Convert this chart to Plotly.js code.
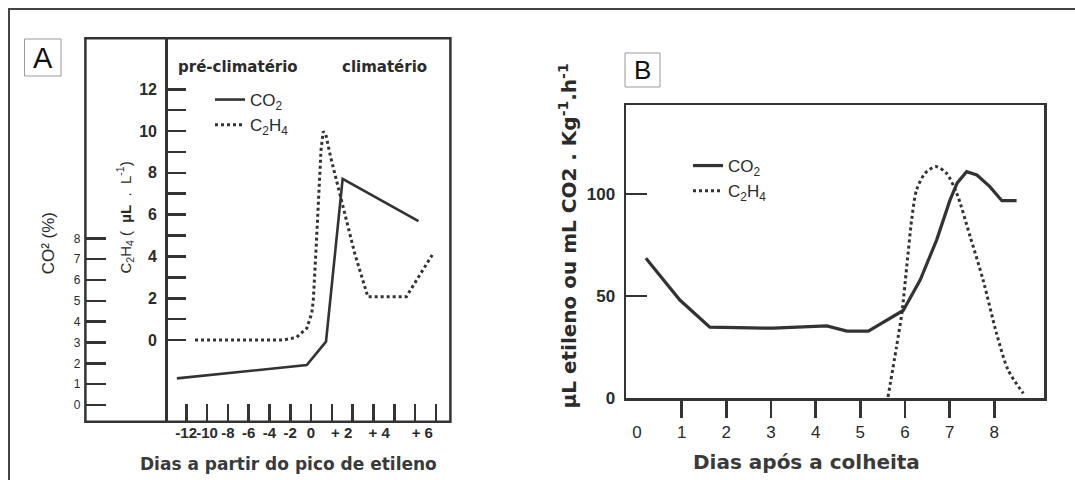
<!DOCTYPE html>
<html>
<head>
<meta charset="utf-8">
<script src="https://cdn.plot.ly/plotly-3.0.1.min.js"></script>
<style>
  html, body { margin: 0; padding: 0; background: #fff; }
  #chart { width: 1075px; height: 480px; }
</style>
</head>
<body>
<div id="chart"></div>
<script>
// ---- Panel A: days from the ethylene peak ----
const daysA_co2 = [-12.9, -0.41, 1.44, 3.04, 10.33];
const co2PctA   = [1.28, 1.92, 3.04, 10.85, 8.83];

const daysA_eth = [-11.15, -2.66, -1.38, -0.41, 0.07, 0.22, 0.48, 0.72, 0.96, 1.17, 1.41, 1.88, 3.21, 4.2, 5.46, 9.16, 11.65];
const ethA      = [0, 0, 0.13, 0.56, 1.28, 1.91, 4.31, 6.70, 9.09, 9.98, 9.86, 8.77, 6.06, 4.15, 2.07, 2.07, 4.07];

const tickDaysA  = [-12, -10, -8, -6, -4, -2, 0, 2, 4, 6, 8, 10, 12];
const labelDaysA = [-12, -10, -8, -6, -4, -2, 0, 2.95, 6.56, 10.7];
const labelTextA = ['-12', '-10', '-8', '-6', '-4', '-2', '0', '+ 2', '+ 4', '+ 6'];
const ethTicksA  = [0, 2, 4, 6, 8, 10, 12];
const ethMinorA  = [1, 3, 5, 7, 9, 11];
const co2TicksA  = [0, 1, 2, 3, 4, 5, 6, 7, 8];

// ---- Panel B: days after harvest ----
const daysB_co2 = [0.20, 0.96, 1.63, 3.05, 4.25, 4.70, 5.18, 5.96, 6.34, 6.71, 7.01, 7.17, 7.38, 7.61, 7.90, 8.17, 8.50];
const co2B      = [68.5, 48.0, 34.7, 34.2, 35.3, 32.8, 32.8, 42.9, 57.8, 77.5, 97.1, 105.4, 110.9, 109.3, 103.6, 96.7, 96.7];

const daysB_eth = [5.62, 5.81, 5.93, 6.04, 6.15, 6.26, 6.45, 6.69, 6.93, 7.16, 7.46, 7.75, 8.05, 8.31, 8.65];
const ethB      = [0.5, 25, 41.5, 64.4, 87.3, 102, 110.1, 113.4, 110.1, 100.3, 79.1, 57.8, 31.7, 13.7, 2.3];

const tickDaysB  = [1, 2, 3, 4, 5, 6, 7, 8];
const labelDaysB = [0, 1, 2, 3, 4, 5, 6, 7, 8];
const valTicksB  = [0, 50, 100];

// ---- layout helpers (pixel -> paper fraction) ----
const W = 1075, H = 480;
const px = v => v / W;
const py = v => 1 - v / H;
const ink = '#333';
const txt = '#2b2b2b';
const sans = 'Liberation Sans, Arial, sans-serif';
const wide = 'DejaVu Sans, sans-serif';

const traces = [
  { x: daysA_co2, y: co2PctA, xaxis: 'x', yaxis: 'y2', mode: 'lines',
    name: 'CO<sub>2</sub>', legend: 'legend',
    line: { color: ink, width: 2.6 } },
  { x: daysA_eth, y: ethA, xaxis: 'x', yaxis: 'y', mode: 'lines',
    name: 'C<sub>2</sub>H<sub>4</sub>', legend: 'legend',
    line: { color: ink, width: 3, dash: 'dot' } },
  { x: [], y: [], xaxis: 'x3', yaxis: 'y', showlegend: false, hoverinfo: 'skip' },
  { x: daysB_co2, y: co2B, xaxis: 'x2', yaxis: 'y3', mode: 'lines',
    name: 'CO<sub>2</sub>', legend: 'legend2',
    line: { color: ink, width: 3.2 } },
  { x: daysB_eth, y: ethB, xaxis: 'x2', yaxis: 'y3', mode: 'lines',
    name: 'C<sub>2</sub>H<sub>4</sub>', legend: 'legend2',
    line: { color: ink, width: 3, dash: 'dot', shape: 'spline', smoothing: 0.8 } },
  { x: [], y: [], xaxis: 'x4', yaxis: 'y3', showlegend: false, hoverinfo: 'skip' }
];

const noGrid = { showgrid: false, zeroline: false, fixedrange: true };

// centred paper-space text
function label(text, x, y, font, extra) {
  return Object.assign({ text: text, x: px(x), y: py(y), xref: 'paper', yref: 'paper',
    xanchor: 'center', yanchor: 'middle', showarrow: false, font: font }, extra || {});
}

const layout = {
  width: W, height: H,
  margin: { l: 0, r: 0, t: 0, b: 0 },
  paper_bgcolor: '#fff', plot_bgcolor: 'rgba(0,0,0,0)',
  font: { family: sans, color: txt },
  showlegend: true,

  // Panel A: day axis (tick marks) and its label row
  xaxis: Object.assign({}, noGrid, {
    domain: [px(167.7), px(450.4)], range: [-13.78, 13.4], anchor: 'y',
    tickmode: 'array', tickvals: tickDaysA, ticks: 'inside', ticklen: 18,
    tickwidth: 2.6, tickcolor: ink, showticklabels: false, showline: false
  }),
  xaxis3: Object.assign({}, noGrid, {
    overlaying: 'x', anchor: 'y', range: [-13.78, 13.4],
    tickmode: 'array', tickvals: labelDaysA, ticktext: labelTextA, ticks: '',
    tickangle: 0, tickfont: { size: 15, weight: 'bold', color: txt },
    ticklabelstandoff: 0, showline: false
  }),
  // Panel A: C2H4 axis
  yaxis: Object.assign({}, noGrid, {
    domain: [py(421.7), py(38.3)], range: [-3.91, 14.44], anchor: 'x',
    tickmode: 'array', tickvals: ethTicksA,
    ticks: 'inside', ticklen: 18, tickwidth: 2.6, tickcolor: ink,
    minor: { tickmode: 'array', tickvals: ethMinorA, ticks: 'inside', ticklen: 18,
             tickwidth: 2.6, tickcolor: ink, showgrid: false },
    tickfont: { size: 16, weight: 'bold', color: txt }, ticklabelstandoff: 5,
    showline: true, linewidth: 2.5, linecolor: ink
  }),
  // Panel A: CO2 % axis
  yaxis2: Object.assign({}, noGrid, {
    overlaying: 'y', anchor: 'free', position: px(85.4), side: 'left',
    range: [-0.80, 17.6], tickmode: 'array', tickvals: co2TicksA,
    ticks: 'inside', ticklen: 20, tickwidth: 2.6, tickcolor: ink,
    tickfont: { size: 12, color: txt }, ticklabelstandoff: 5, showline: false
  }),

  // Panel B
  xaxis2: Object.assign({}, noGrid, {
    domain: [px(626), px(1044)], range: [-0.246, 9.113], anchor: 'y3',
    tickmode: 'array', tickvals: tickDaysB, ticks: 'outside', ticklen: 17,
    tickwidth: 2.6, tickcolor: ink, showticklabels: false,
    showline: true, mirror: true, linewidth: 2.5, linecolor: ink
  }),
  xaxis4: Object.assign({}, noGrid, {
    overlaying: 'x2', anchor: 'y3', range: [-0.246, 9.113],
    tickmode: 'array', tickvals: labelDaysB, ticks: '', tickangle: 0,
    tickfont: { size: 17, color: txt }, ticklabelstandoff: 22, showline: false
  }),
  yaxis3: Object.assign({}, noGrid, {
    domain: [py(398), py(105)], range: [0, 143.6], anchor: 'x2',
    tickmode: 'array', tickvals: valTicksB, ticks: 'inside', ticklen: 21,
    tickwidth: 2.6, tickcolor: ink,
    tickfont: { size: 17, weight: 'bold', color: txt }, ticklabelstandoff: 5,
    showline: true, mirror: true, linewidth: 2.5, linecolor: ink
  }),

  legend: {
    x: px(210), y: py(82), xanchor: 'left', yanchor: 'top',
    bgcolor: 'rgba(0,0,0,0)', borderwidth: 0, tracegroupgap: 0,
    font: { size: 17, color: txt, family: sans }
  },
  legend2: {
    x: px(688), y: py(148), xanchor: 'left', yanchor: 'top',
    bgcolor: 'rgba(0,0,0,0)', borderwidth: 0, tracegroupgap: 0,
    font: { size: 17, color: txt, family: sans }
  },

  shapes: [
    // figure frame
    { type: 'rect', xref: 'paper', yref: 'paper', x0: px(9), y0: py(9), x1: 1.02, y1: -0.03,
      line: { color: '#444', width: 2 } },
    // panel A outer box
    { type: 'rect', xref: 'paper', yref: 'paper', x0: px(85.4), y0: py(38.3), x1: px(450.4), y1: py(421.7),
      line: { color: ink, width: 2.5 } },
    // panel letter boxes
    { type: 'rect', xref: 'paper', yref: 'paper', x0: px(24.5), y0: py(39), x1: px(61), y1: py(76),
      line: { color: '#9a9a9a', width: 1 } },
    { type: 'rect', xref: 'paper', yref: 'paper', x0: px(625), y0: py(53), x1: px(660), y1: py(87),
      line: { color: '#9a9a9a', width: 1 } }
  ],

  annotations: [
    label('A', 42.7, 58, { size: 29, family: sans, color: '#111' }),
    label('B', 642.5, 70.5, { size: 26, family: sans, color: '#111' }),
    label('pré-climatério', 237.5, 66.7, { size: 15, family: wide, weight: 'bold', color: txt }),
    label('climatério', 384.5, 66.7, { size: 15, family: wide, weight: 'bold', color: txt }),
    label('CO² (%)', 48.3, 243, { size: 17, family: sans, color: txt }, { textangle: -90 }),
    label('C<sub>2</sub>H<sub>4</sub> (  <b>µL</b>  .  L<sup>-1</sup>)', 125, 217.5,
          { size: 15, family: sans, color: txt }, { textangle: -90 }),
    label('Dias a partir do pico de etileno', 288, 464,
          { size: 17, family: wide, weight: 'bold', color: '#3a3a3a' }),
    label('Dias após a colheita', 806, 461.7,
          { size: 20, family: wide, weight: 'bold', color: '#3a3a3a' }),
    label('µL etileno ou mL CO2 . Kg<sup>-1</sup>.h<sup>-1</sup>', 567, 236.5,
          { size: 20, family: wide, weight: 'bold', color: txt }, { textangle: -90 })
  ]
};

Plotly.newPlot('chart', traces, layout, { displayModeBar: false, staticPlot: true });
</script>
</body>
</html>
